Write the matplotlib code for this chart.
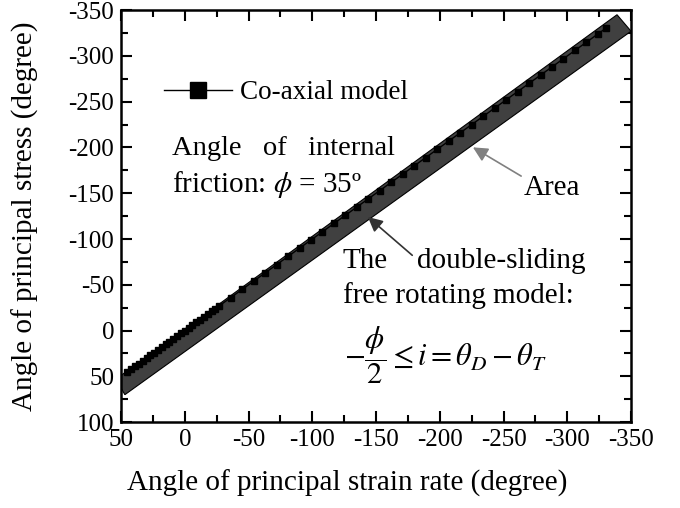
"""Co-axial model vs. double-sliding free rotating model area."""
import matplotlib
matplotlib.use('Agg')
import matplotlib.pyplot as plt
from matplotlib.patches import Polygon

plt.rcParams['font.family'] = ['Liberation Serif', 'DejaVu Serif']
plt.rcParams['mathtext.fontset'] = 'stix'
plt.rcParams['axes.unicode_minus'] = False

# Co-axial model: stress angle equals strain rate angle
strain_rate = [45, 42, 39, 36, 33, 30, 27, 24, 21, 18, 15, 12, 9, 6, 3, 0,
               -3, -6, -9, -12, -15, -18, -21, -24, -27,
               -36, -45, -54, -63, -72, -81, -90, -99, -108, -117, -126,
               -135, -144, -153, -162, -171, -180, -189, -198, -207, -216,
               -225, -234, -243, -252, -261, -270, -279, -288, -297, -306,
               -315, -324, -330]
stress = list(strain_rate)

# corners of the shaded area (double-sliding free rotating model)
area_x = [54, -339, -350, 47]
area_y = [53, -345, -327, 70]

x_ticks = [50, 0, -50, -100, -150, -200, -250, -300, -350]
y_ticks = [-350, -300, -250, -200, -150, -100, -50, 0, 50, 100]

fig = plt.figure(figsize=(6.8, 5.08), dpi=100)
ax = fig.add_axes([0.178, 0.169, 0.750, 0.811])

ax.add_patch(Polygon(list(zip(area_x, area_y)), closed=True,
                     facecolor='#404040', edgecolor='black', lw=0.8, zorder=2))
ax.plot(strain_rate, stress, color='black', lw=1, marker='s', ms=5,
        label='Co-axial model', zorder=3)

ax.set_xlim(50, -350)
ax.set_ylim(100, -350)
ax.set_xticks(x_ticks)
ax.set_yticks(y_ticks)
ax.set_xticks([25, -25, -75, -125, -175, -225, -275, -325], minor=True)
ax.set_yticks([-325, -275, -225, -175, -125, -75, -25, 25, 75], minor=True)
ax.tick_params(which='both', direction='in', top=True, right=True,
               labelsize=18, width=1.5)
ax.tick_params(which='major', length=8, pad=5)
ax.tick_params(which='minor', length=5)
for s in ax.spines.values():
    s.set_linewidth(1.8)

ax.set_xlabel('Angle of principal strain rate (degree)', fontsize=21)
ax.set_ylabel('Angle of principal stress (degree)', fontsize=21)
ax.xaxis.set_label_coords(0.443, -0.115)
ax.yaxis.set_label_coords(-0.160, 0.5)

ax.legend(loc='center left', bbox_to_anchor=(0.037, 0.80), frameon=False,
          fontsize=19.5, handlelength=2.5, handletextpad=0.3, markerscale=2.2)

ax.text(0.100, 0.648, 'Angle   of   internal', transform=ax.transAxes, fontsize=20.5)
ax.text(0.100, 0.558, r'friction: $\phi$ = 35º', transform=ax.transAxes, fontsize=21)
ax.text(0.435, 0.374, 'The', transform=ax.transAxes, fontsize=21)
ax.text(0.580, 0.374, 'double-sliding', transform=ax.transAxes, fontsize=21)
ax.text(0.435, 0.289, 'free rotating model:', transform=ax.transAxes, fontsize=21)
ax.text(0.437, 0.163, r'$-\dfrac{\phi}{2} \leq i = \theta_D - \theta_T$',
        transform=ax.transAxes, fontsize=22, va='center')

ax.annotate('Area', xy=(0.690, 0.667), xytext=(0.790, 0.551),
            xycoords='axes fraction', textcoords='axes fraction', fontsize=21,
            arrowprops=dict(arrowstyle='-|>', color='#808080', lw=1.2,
                            mutation_scale=22, shrinkA=0, shrinkB=0,
                            relpos=(0.0, 0.9)))
ax.annotate('', xy=(0.484, 0.498), xytext=(0.571, 0.405),
            xycoords='axes fraction', textcoords='axes fraction',
            arrowprops=dict(arrowstyle='-|>', color='#333333', lw=1.2,
                            mutation_scale=22, shrinkA=0, shrinkB=0))

plt.savefig('out.png', dpi=100)
plt.close()
